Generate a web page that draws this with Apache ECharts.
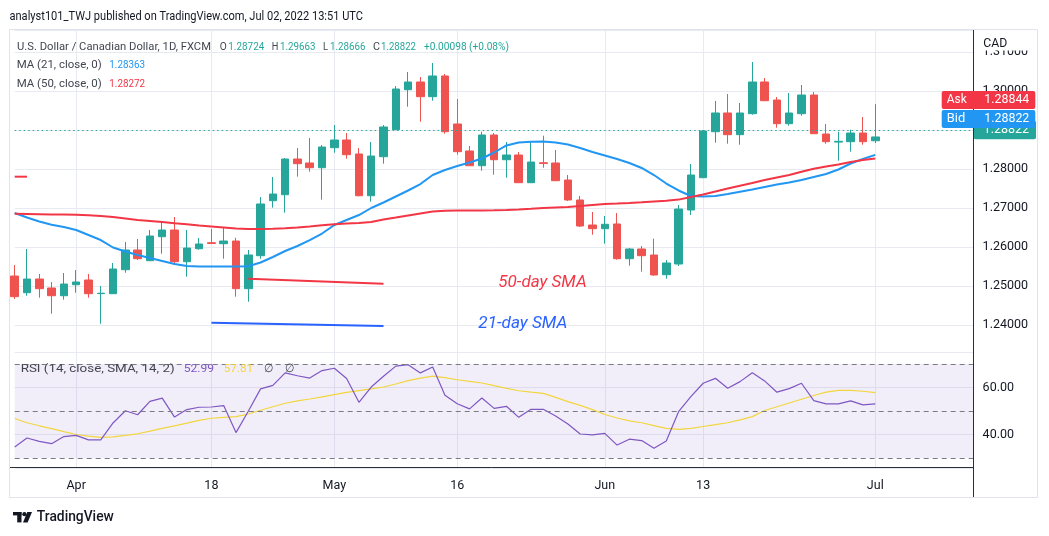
<!DOCTYPE html>
<html><head><meta charset="utf-8">
<script src="https://cdn.jsdelivr.net/npm/echarts@6/dist/echarts.min.js"></script>
<style>html,body{margin:0;padding:0;background:#fff}#c{width:1049px;height:536px}</style>
</head><body><div id="c"></div>
<script>
// ---------- DATA ----------
const dates = ['2022-03-25','2022-03-28','2022-03-29','2022-03-30','2022-03-31',
'2022-04-01','2022-04-04','2022-04-05','2022-04-06','2022-04-07','2022-04-08',
'2022-04-11','2022-04-12','2022-04-13','2022-04-14','2022-04-15',
'2022-04-18','2022-04-19','2022-04-20','2022-04-21','2022-04-22',
'2022-04-25','2022-04-26','2022-04-27','2022-04-28','2022-04-29',
'2022-05-02','2022-05-03','2022-05-04','2022-05-05','2022-05-06',
'2022-05-09','2022-05-10','2022-05-11','2022-05-12','2022-05-13',
'2022-05-16','2022-05-17','2022-05-18','2022-05-19','2022-05-20',
'2022-05-23','2022-05-24','2022-05-25','2022-05-26','2022-05-27',
'2022-05-30','2022-05-31',
'2022-06-01','2022-06-02','2022-06-03',
'2022-06-06','2022-06-07','2022-06-08','2022-06-09','2022-06-10',
'2022-06-13','2022-06-14','2022-06-15','2022-06-16','2022-06-17',
'2022-06-20','2022-06-21','2022-06-22','2022-06-23','2022-06-24',
'2022-06-27','2022-06-28','2022-06-29','2022-06-30',
'2022-07-01'];
const futureDates = ['2022-07-04','2022-07-05','2022-07-06','2022-07-07','2022-07-08','2022-07-11','2022-07-12','2022-07-13'];
const tickLabels = {'2022-04-01':'Apr','2022-04-18':'18','2022-05-02':'May','2022-05-16':'16','2022-06-01':'Jun','2022-06-13':'13','2022-07-01':'Jul'};

const opens = [1.25256,1.24828,1.25179,1.24949,1.24751,1.25033,1.25154,1.24805,1.24803,1.25418,
1.25923,1.25649,1.26264,1.26436,1.25623,1.25956,1.26110,1.26085,1.26154,1.24931,
1.25777,1.27187,1.27341,1.28256,1.28154,1.28033,1.28546,1.28744,1.28385,1.27315,
1.28315,1.29008,1.30033,1.30231,1.29854,1.30385,1.29154,1.28462,1.28085,1.28872,
1.28238,1.28359,1.27649,1.28160,1.28154,1.27718,1.27205,1.26564,1.26470,1.26590,
1.25700,1.25949,1.25795,1.25290,1.25564,1.26949,1.27777,1.28956,1.29436,1.28880,
1.29418,1.30231,1.29769,1.29162,1.29418,1.29897,1.28897,1.28690,1.28700,1.28923,1.28724];
const closes = [1.24727,1.25179,1.24931,1.24751,1.25051,1.25103,1.24803,1.24815,1.25436,1.25923,
1.25700,1.26282,1.26436,1.25623,1.25974,1.26077,1.26090,1.26154,1.24931,1.25795,
1.27103,1.27359,1.28256,1.28136,1.28033,1.28564,1.28744,1.28367,1.27315,1.28333,
1.29077,1.30051,1.30231,1.29854,1.30385,1.28956,1.28444,1.28085,1.28872,1.28238,
1.28359,1.27649,1.28179,1.28140,1.27700,1.27205,1.26538,1.26470,1.26582,1.25700,
1.25949,1.25777,1.25282,1.25590,1.26974,1.27846,1.28974,1.29436,1.28880,1.29436,
1.30231,1.29751,1.29162,1.29436,1.29897,1.28905,1.28700,1.28710,1.28923,1.28700,1.28822];
const lows = [1.24667,1.24751,1.24700,1.24290,1.24649,1.24828,1.24700,1.24033,1.24795,1.25341,
1.25667,1.25640,1.25828,1.25572,1.25238,1.25930,1.26077,1.25700,1.24726,1.24597,
1.25700,1.27008,1.26880,1.27803,1.27931,1.27213,1.28418,1.28264,1.27300,1.27162,
1.28136,1.29000,1.29597,1.29213,1.29751,1.28905,1.28367,1.28080,1.27956,1.27854,
1.27777,1.27640,1.27640,1.28033,1.27695,1.27180,1.26513,1.26315,1.26085,1.25674,
1.25521,1.25367,1.25264,1.25187,1.25513,1.26820,1.27770,1.28674,1.28649,1.28623,
1.29392,1.29745,1.29059,1.29110,1.29367,1.28900,1.28649,1.28213,1.28444,1.28623,1.28666];
const highs = [1.25538,1.25949,1.25308,1.25103,1.25333,1.25410,1.25308,1.25000,1.25590,1.26128,
1.26205,1.26436,1.26641,1.26769,1.26436,1.26231,1.26462,1.26487,1.26238,1.25923,
1.27282,1.27795,1.28282,1.28538,1.28795,1.28615,1.29128,1.28923,1.28538,1.28692,
1.29128,1.30128,1.30487,1.30359,1.30718,1.30436,1.29795,1.28590,1.28956,1.28923,
1.28692,1.28436,1.28692,1.28854,1.28487,1.27846,1.27308,1.26897,1.26795,1.26872,
1.25974,1.26026,1.26213,1.25667,1.27077,1.28128,1.29000,1.29744,1.29923,1.29692,
1.30744,1.30333,1.29846,1.29949,1.30154,1.29974,1.29154,1.28956,1.29008,1.29333,1.29663];

const ma21 = [1.26872,1.26756,1.26654,1.26572,1.26513,1.26436,1.26308,1.26179,1.25987,1.25885,
1.25795,1.25718,1.25641,1.25564,1.25513,1.25500,1.25500,1.25500,1.25500,1.25505,
1.25603,1.25744,1.25897,1.26026,1.26179,1.26346,1.26564,1.26692,1.26820,1.27000,
1.27141,1.27295,1.27449,1.27615,1.27846,1.27974,1.28077,1.28167,1.28269,1.28423,
1.28603,1.28679,1.28700,1.28705,1.28679,1.28628,1.28538,1.28436,1.28346,1.28256,
1.28154,1.28026,1.27846,1.27628,1.27449,1.27308,1.27295,1.27308,1.27359,1.27418,
1.27474,1.27538,1.27603,1.27654,1.27718,1.27795,1.27872,1.27987,1.28141,1.28256,1.28363];
const ma50 = [1.26851,1.26846,1.26841,1.26836,1.26831,1.26826,1.26813,1.26795,1.26769,1.26731,
1.26692,1.26667,1.26641,1.26608,1.26582,1.26551,1.26526,1.26500,1.26474,1.26462,
1.26462,1.26467,1.26482,1.26500,1.26526,1.26559,1.26582,1.26603,1.26615,1.26641,
1.26705,1.26756,1.26808,1.26859,1.26910,1.26931,1.26936,1.26936,1.26938,1.26943,
1.26949,1.26962,1.26980,1.27000,1.27013,1.27026,1.27051,1.27077,1.27103,1.27115,
1.27128,1.27146,1.27167,1.27187,1.27215,1.27282,1.27346,1.27423,1.27500,1.27572,
1.27641,1.27718,1.27782,1.27846,1.27928,1.28005,1.28064,1.28115,1.28179,1.28231,1.28272];

const rsi = [34.7,38.5,37.1,36.1,39.1,39.6,37.7,37.7,44.9,50.1,
48.4,54.1,55.5,47.4,50.6,51.6,51.7,52.3,40.8,49.9,
59.4,60.9,66.2,65.0,64.0,67.2,68.2,63.8,53.7,60.2,
64.8,69.1,69.7,66.2,68.7,56.7,53.1,50.9,55.5,51.1,
52.0,47.3,50.7,50.7,47.9,44.5,40.2,39.8,40.5,35.5,
38.0,37.4,34.1,37.2,49.7,56.1,61.8,63.9,59.7,62.5,
66.3,62.8,58.0,59.5,61.8,54.4,53.0,53.0,54.3,52.6,52.99];
const rsiMa = [46.8,45.0,43.7,42.5,41.2,40.0,39.3,38.8,39.0,39.6,
40.3,41.4,42.6,43.7,44.8,46.0,46.9,47.3,47.6,48.7,
50.3,51.8,53.3,54.3,55.1,56.0,57.0,57.9,58.7,59.4,
60.2,61.5,62.9,64.0,64.8,64.2,63.3,62.6,61.9,60.8,
59.6,58.6,58.0,57.5,55.8,54.0,52.4,50.6,48.5,47.0,
45.8,45.0,43.8,42.6,42.2,42.6,43.4,44.2,45.0,46.2,
47.6,50.2,51.8,53.4,55.0,56.6,58.0,58.8,58.8,58.4,57.81];
const rsiLevels = [70, 50, 30];

// drawn annotations (date, price)
const note50Dates = ['2022-04-21','2022-05-06'], note50Prices = [1.25187, 1.25059];
const note21Dates = ['2022-04-18','2022-05-06'], note21Prices = [1.24059, 1.23974];
const stubDates = ['2022-03-25','2022-03-28'], stubPrices = [1.27803, 1.27803];

const lastClose = 1.28822, askPrice = 1.28844, bidPrice = 1.28822;

// ---------- BUILD ----------
const allDates = dates.concat(futureDates);
const ohlc = dates.map((d, i) => [opens[i], closes[i], lows[i], highs[i]]);
const UP = '#26a69a', DOWN = '#ef5350', GRID = '#e7ebf1', TXT = '#131722';
const FONT = 'Roboto';
const isTick = (i, v) => !!tickLabels[v];

const ctx = document.createElement('canvas').getContext('2d');
function fit(x, y, text, size, fill, width, o) {
  o = o || {};
  const fam = o.family || FONT, w8 = o.weight || 'normal', st = o.style || 'normal';
  ctx.font = st + ' ' + w8 + ' ' + size + 'px ' + fam;
  const w = ctx.measureText(text).width;
  return {type: 'text', x: x, y: y, z: 100, silent: true, scaleX: width ? width / w : 1,
    style: {text: text, fill: fill, fontSize: size, fontFamily: fam, fontWeight: w8, fontStyle: st,
      verticalAlign: 'middle', align: 'left'}};
}
function pair(list) { return list[0].map((d, i) => [d, list[1][i]]); }

const graphics = [
  // outer frame
  {type: 'rect', z: 90, silent: true, shape: {x: 9.5, y: 29.5, width: 1028, height: 468}, style: {fill: 'none', stroke: '#e0e3eb', lineWidth: 1}},
  {type: 'line', z: 95, silent: true, shape: {x1: 973.5, y1: 30, x2: 973.5, y2: 497}, style: {stroke: '#2a2e39', lineWidth: 1}},
  {type: 'line', z: 95, silent: true, shape: {x1: 10, y1: 467.5, x2: 973.5, y2: 467.5}, style: {stroke: '#2a2e39', lineWidth: 1}},
  // header
  fit(9.5, 16.5, 'analyst101_TWJ published on TradingView.com, Jul 02, 2022 13:51 UTC', 13, TXT, 353.5),
  // legend
  fit(17, 46.7, 'U.S. Dollar / Canadian Dollar, 1D, FXCM', 11.5, '#434651', 194),
  fit(219.7, 46.7, 'O', 11.5, '#434651', 7),
  fit(228.3, 46.7, '1.28724', 11.5, UP, 36),
  fit(271.7, 46.7, 'H', 11.5, '#434651', 6.6),
  fit(280, 46.7, '1.29663', 11.5, UP, 35.5),
  fit(323, 46.7, 'L', 11.5, '#434651', 5),
  fit(330, 46.7, '1.28666', 11.5, UP, 35.5),
  fit(373, 46.7, 'C', 11.5, '#434651', 7),
  fit(381, 46.7, '1.28822', 11.5, UP, 35),
  fit(424, 46.7, '+0.00098 (+0.08%)', 11.5, UP, 85),
  fit(16.7, 65.3, 'MA (21, close, 0)', 11.5, '#434651', 85),
  fit(109.3, 65.3, '1.28363', 11.5, '#2196f3', 35.7),
  fit(16.7, 84, 'MA (50, close, 0)', 11.5, '#434651', 85),
  fit(109.3, 84, '1.28272', 11.5, '#f23645', 35.7),
  // RSI legend
  fit(20.7, 369.3, 'RSI (14, close, SMA, 14, 2)', 11.5, '#434651', 154),
  fit(183.7, 369.3, '52.99', 11.5, '#7e57c2', 30.3),
  fit(223.7, 369.3, '57.81', 11.5, '#f2d63f', 29.3),
  fit(264, 369.3, '\u2205', 11.5, '#434651', 9),
  fit(285.3, 369.3, '\u2205', 11.5, '#434651', 9),
  // annotation texts
  fit(498.3, 282.7, '50-day SMA', 16, '#f23645', 88.4, {style: 'italic'}),
  fit(478.3, 324.3, '21-day SMA', 16, '#2962ff', 89, {style: 'italic'}),
  // CAD header of price scale
  {type: 'rect', z: 99, silent: true, shape: {x: 974.5, y: 30.5, width: 62, height: 20}, style: {fill: '#ffffff'}},
  fit(983.3, 44, 'CAD', 12, TXT, 24),
  // Ask / Bid boxes
  {type: 'rect', z: 99, silent: true, shape: {x: 941.7, y: 91, width: 93.6, height: 18, r: 2}, style: {fill: '#f23645'}},
  fit(946.7, 100.3, 'Ask', 12, '#ffffff', 20),
  fit(984.3, 100.3, askPrice.toFixed(5), 12, '#ffffff', 45),
  {type: 'rect', z: 99, silent: true, shape: {x: 941.7, y: 110, width: 93.6, height: 18, r: 2}, style: {fill: '#2196f3'}},
  fit(946.7, 119, 'Bid', 12, '#ffffff', 18.5),
  fit(984.3, 119, bidPrice.toFixed(5), 12, '#ffffff', 45),
  // TradingView logo
  {type: 'rect', z: 100, silent: true, shape: {x: 13, y: 512, width: 8.5, height: 3.4}, style: {fill: TXT}},
  {type: 'rect', z: 100, silent: true, shape: {x: 17.2, y: 512, width: 4.3, height: 10.4}, style: {fill: TXT}},
  {type: 'circle', z: 100, silent: true, shape: {cx: 24.4, cy: 514.2, r: 2.1}, style: {fill: TXT}},
  {type: 'polygon', z: 100, silent: true, shape: {points: [[27.3, 512], [32, 512], [27.6, 522.4], [23, 522.4]]}, style: {fill: TXT}},
  fit(36.8, 517, 'TradingView', 14, TXT, 77, {weight: '500'})
];

const chart = echarts.init(document.getElementById('c'), null, {renderer: 'canvas'});
chart.setOption({
  animation: false,
  backgroundColor: '#ffffff',
  textStyle: {fontFamily: FONT},
  grid: [
    {left: 14.7, right: 75.4, top: 30, height: 322, outerBoundsMode: 'none'},
    {left: 14.7, right: 75.4, top: 352, height: 116, outerBoundsMode: 'none'}
  ],
  xAxis: [
    {type: 'category', gridIndex: 0, data: allDates, boundaryGap: false,
      axisLine: {show: false}, axisTick: {show: false}, axisLabel: {show: false},
      splitLine: {show: true, interval: isTick, lineStyle: {color: GRID, width: 1}}},
    {type: 'category', gridIndex: 1, data: allDates, boundaryGap: false,
      axisLine: {show: false}, axisTick: {show: false},
      axisLabel: {show: true, interval: isTick, formatter: v => tickLabels[v] || '', color: TXT, fontSize: 12.5, fontFamily: FONT, margin: 11},
      splitLine: {show: true, interval: isTick, lineStyle: {color: GRID, width: 1}}}
  ],
  yAxis: [
    {type: 'value', gridIndex: 0, position: 'right', min: 1.23308, max: 1.31564, splitNumber: 8,
      minInterval: 0.01, maxInterval: 0.01,
      axisLine: {show: false}, axisTick: {show: false},
      axisLabel: {formatter: v => v.toFixed(5), showMinLabel: false, showMaxLabel: false, color: TXT, fontSize: 12.5, fontFamily: FONT, margin: 9},
      splitLine: {show: true, lineStyle: {color: GRID, width: 1}}},
    {type: 'value', gridIndex: 1, position: 'right', min: 25.74, max: 75.1, splitNumber: 2,
      minInterval: 20, maxInterval: 20,
      axisLine: {show: false}, axisTick: {show: false},
      axisLabel: {formatter: v => v.toFixed(2), showMinLabel: false, showMaxLabel: false, color: TXT, fontSize: 12.5, fontFamily: FONT, margin: 9},
      splitLine: {show: true, lineStyle: {color: GRID, width: 1}}}
  ],
  series: [
    {name: 'USDCAD', type: 'candlestick', xAxisIndex: 0, yAxisIndex: 0, data: ohlc, barWidth: 8, clip: false,
      itemStyle: {color: UP, color0: DOWN, borderColor: UP, borderColor0: DOWN, borderWidth: 1},
      markLine: {silent: true, symbol: ['none', 'none'], animation: false,
        data: [{yAxis: lastClose}],
        lineStyle: {color: UP, type: [1.5, 3], width: 1},
        label: {show: true, position: 'end', distance: 0, formatter: lastClose.toFixed(5),
          backgroundColor: UP, color: '#ffffff', fontSize: 12.5, fontFamily: FONT, lineHeight: 13.5,
          padding: [2.5, 7, 2.5, 10], borderRadius: 2}}},
    {name: 'MA21', type: 'line', xAxisIndex: 0, yAxisIndex: 0, data: ma21, symbol: 'none',
      lineStyle: {color: '#2196f3', width: 2}, z: 3},
    {name: 'MA50', type: 'line', xAxisIndex: 0, yAxisIndex: 0, data: ma50, symbol: 'none',
      lineStyle: {color: '#f23645', width: 2}, z: 3},
    {name: 'note50', type: 'line', xAxisIndex: 0, yAxisIndex: 0, data: pair([note50Dates, note50Prices]), symbol: 'none',
      lineStyle: {color: '#f23645', width: 2}},
    {name: 'note21', type: 'line', xAxisIndex: 0, yAxisIndex: 0, data: pair([note21Dates, note21Prices]), symbol: 'none',
      lineStyle: {color: '#2962ff', width: 2}},
    {name: 'stub', type: 'line', xAxisIndex: 0, yAxisIndex: 0, data: pair([stubDates, stubPrices]), symbol: 'none',
      lineStyle: {color: '#f23645', width: 2}},
    {name: 'RSI', type: 'line', xAxisIndex: 1, yAxisIndex: 1, data: rsi, symbol: 'none',
      lineStyle: {color: '#7e57c2', width: 1.2}, z: 4,
      markArea: {silent: true, itemStyle: {color: 'rgba(126,87,194,0.10)'},
        data: [[{yAxis: rsiLevels[2]}, {yAxis: rsiLevels[0]}]]},
      markLine: {silent: true, symbol: ['none', 'none'], label: {show: false},
        lineStyle: {color: '#787b86', type: [5, 4], width: 1},
        data: rsiLevels.map(v => ({yAxis: v}))}},
    {name: 'RSI MA', type: 'line', xAxisIndex: 1, yAxisIndex: 1, data: rsiMa, symbol: 'none',
      lineStyle: {color: '#f2d63f', width: 1.2}, z: 3}
  ],
  graphic: {elements: graphics}
});
</script>
</body></html>
